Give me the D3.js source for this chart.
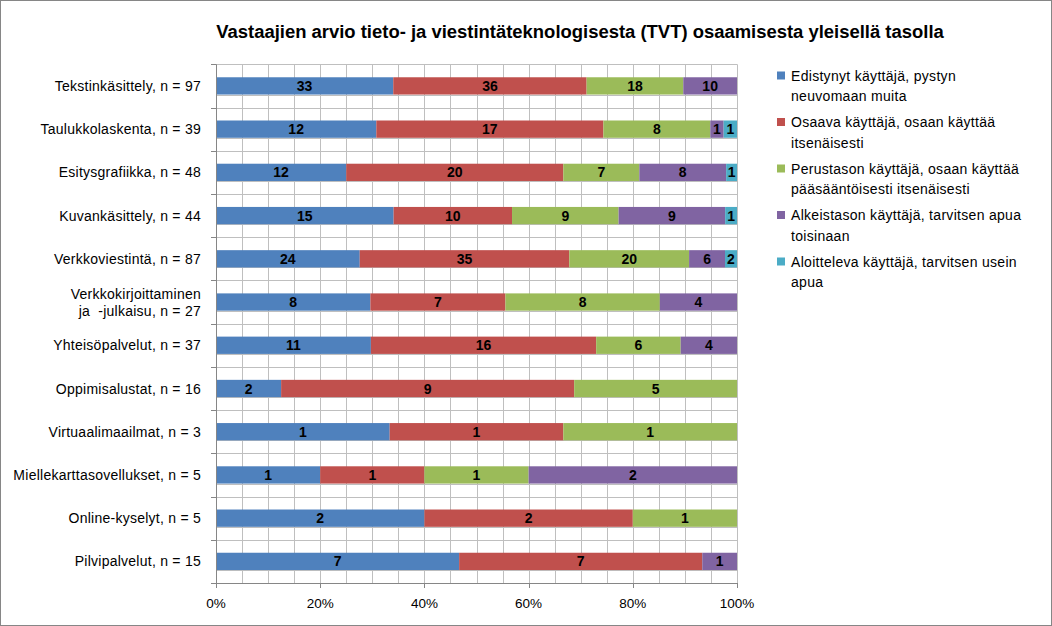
<!DOCTYPE html>
<html><head><meta charset="utf-8">
<script src="https://cdn.jsdelivr.net/npm/d3@7"></script>
<style>
html,body{margin:0;padding:0;background:#fff;}
svg{display:block;}
text{font-family:"Liberation Sans",Arial,sans-serif;}
</style></head>
<body><svg id="chart" width="1052" height="626"></svg>
<script>
const title = "Vastaajien arvio tieto- ja viestintäteknologisesta (TVT) osaamisesta yleisellä tasolla";
const categories = [
  ["Tekstinkäsittely, n = 97"],
  ["Taulukkolaskenta, n = 39"],
  ["Esitysgrafiikka, n = 48"],
  ["Kuvankäsittely, n = 44"],
  ["Verkkoviestintä, n = 87"],
  ["Verkkokirjoittaminen", "ja  -julkaisu, n = 27"],
  ["Yhteisöpalvelut, n = 37"],
  ["Oppimisalustat, n = 16"],
  ["Virtuaalimaailmat, n = 3"],
  ["Miellekarttasovellukset, n = 5"],
  ["Online-kyselyt, n = 5"],
  ["Pilvipalvelut, n = 15"]
];
const seriesNames = [
  ["Edistynyt käyttäjä, pystyn", "neuvomaan muita"],
  ["Osaava käyttäjä, osaan käyttää", "itsenäisesti"],
  ["Perustason käyttäjä, osaan käyttää", "pääsääntöisesti itsenäisesti"],
  ["Alkeistason käyttäjä, tarvitsen apua", "toisinaan"],
  ["Aloitteleva käyttäjä, tarvitsen usein", "apua"]
];
const edistynyt   = [33, 12, 12, 15, 24, 8, 11, 2, 1, 1, 2, 7];
const osaava      = [36, 17, 20, 10, 35, 7, 16, 9, 1, 1, 2, 7];
const perustaso   = [18,  8,  7,  9, 20, 8,  6, 5, 1, 1, 1, 0];
const alkeistaso  = [10,  1,  8,  9,  6, 4,  4, 0, 0, 2, 0, 1];
const aloitteleva = [ 0,  1,  1,  1,  2, 0,  0, 0, 0, 0, 0, 0];
const xTicks = [0, 0.2, 0.4, 0.6, 0.8, 1.0];
const colors = ["#4F81BD", "#C0504D", "#9BBB59", "#8064A2", "#4BACC6"];

const seriesValues = [edistynyt, osaava, perustaso, alkeistaso, aloitteleva];
const rows = categories.map((c, i) => {
  const r = {key: i};
  seriesValues.forEach((s, j) => r["s" + j] = s[i]);
  return r;
});
const keys = seriesValues.map((_, j) => "s" + j);
const stacked = d3.stack().keys(keys).offset(d3.stackOffsetExpand)(rows);

const svg = d3.select("#chart");
const W = 1052, H = 626;
const plot = {left: 216, right: 737, top: 64.3, bottom: 583};

svg.append("rect").attr("x", 0.5).attr("y", 0.5).attr("width", W - 1).attr("height", H - 1)
  .attr("fill", "#fff").attr("stroke", "#868686");

const x = d3.scaleLinear().domain([0, 1]).range([plot.left, plot.right]);
const y = d3.scaleBand().domain(d3.range(categories.length))
  .range([plot.top, plot.bottom]).paddingInner(0.6).paddingOuter(0.3);
const step = y.step();

// gridlines
const grid = svg.append("g").attr("stroke", "#BFBFBF").attr("stroke-width", 1);
grid.selectAll("line.v").data(d3.range(0, 1.0001, 0.05)).join("line")
  .attr("x1", d => Math.round(x(d)) + 0.5).attr("x2", d => Math.round(x(d)) + 0.5)
  .attr("y1", plot.top).attr("y2", plot.bottom);
const hLines = [];
categories.forEach((c, i) => {
  hLines.push(y(i) - step * 0.3);
  hLines.push(y(i) + y.bandwidth());
});
grid.selectAll("line.h").data(hLines).join("line")
  .attr("x1", plot.left).attr("x2", plot.right)
  .attr("y1", d => Math.round(d) + 0.5).attr("y2", d => Math.round(d) + 0.5);

// bars
const g = svg.append("g");
stacked.forEach((layer, j) => {
  g.append("g").attr("fill", colors[j]).selectAll("rect").data(layer).join("rect")
    .attr("x", d => x(d[0])).attr("width", d => x(d[1]) - x(d[0]))
    .attr("y", (d, i) => y(i)).attr("height", y.bandwidth());
  g.append("g").selectAll("text").data(layer.map((d, i) => ({d, i, v: seriesValues[j][i]})).filter(o => o.v > 0))
    .join("text")
    .attr("x", o => (x(o.d[0]) + x(o.d[1])) / 2)
    .attr("y", o => y(o.i) + y.bandwidth() / 2)
    .attr("dy", "0.36em").attr("text-anchor", "middle")
    .attr("font-size", 14).attr("font-weight", "bold").attr("fill", "#000")
    .text(o => o.v);
});

// axes
const axisColor = "#868686";
const yAxis = svg.append("g").attr("stroke", axisColor);
yAxis.append("line").attr("x1", plot.left + 0.5).attr("x2", plot.left + 0.5).attr("y1", plot.top).attr("y2", plot.bottom);
yAxis.selectAll("line.t").data(d3.range(categories.length + 1)).join("line")
  .attr("x1", plot.left - 5).attr("x2", plot.left)
  .attr("y1", k => Math.round(plot.top + k * step) + 0.5).attr("y2", k => Math.round(plot.top + k * step) + 0.5);

const xAxis = svg.append("g").attr("stroke", axisColor);
xAxis.append("line").attr("x1", plot.left - 5).attr("x2", plot.right).attr("y1", Math.round(plot.bottom) + 0.5).attr("y2", Math.round(plot.bottom) + 0.5);
xAxis.selectAll("line.t").data(xTicks).join("line")
  .attr("x1", d => Math.round(x(d)) + 0.5).attr("x2", d => Math.round(x(d)) + 0.5)
  .attr("y1", plot.bottom).attr("y2", plot.bottom + 5);
svg.append("g").selectAll("text").data(xTicks).join("text")
  .attr("x", d => x(d)).attr("y", 608).attr("text-anchor", "middle")
  .attr("font-size", 13.5).attr("fill", "#000")
  .text(d => d3.format(".0%")(d));

// category labels
const catG = svg.append("g");
categories.forEach((lines, i) => {
  const cy = y(i) + y.bandwidth() / 2;
  const t = catG.append("text").attr("text-anchor", "end").attr("font-size", 14).attr("fill", "#000")
    .attr("letter-spacing", "0.25px").attr("xml:space", "preserve");
  lines.forEach((ln, k) => {
    t.append("tspan").attr("x", 201)
      .attr("y", cy + (k - (lines.length - 1) / 2) * 17).attr("dy", "0.36em").text(ln);
  });
});

// legend
const leg = svg.append("g");
const legY = [75.5, 122, 168.5, 215, 261.5];
seriesNames.forEach((lines, j) => {
  leg.append("rect").attr("x", 777).attr("y", legY[j] - 4).attr("width", 8).attr("height", 8).attr("fill", colors[j]);
  const t = leg.append("text").attr("font-size", 14).attr("letter-spacing", "0.3px").attr("fill", "#000");
  lines.forEach((ln, k) => {
    t.append("tspan").attr("x", 791).attr("y", legY[j] + k * 20.5).attr("dy", "0.36em").text(ln);
  });
});

// title
const tt = svg.append("text").attr("x", 580).attr("y", 31).attr("dy", "0.36em")
  .attr("text-anchor", "middle").attr("font-weight", "bold").attr("font-size", 18).attr("fill", "#000")
  .text(title);
const len = tt.node().getComputedTextLength();
if (len > 0) tt.attr("font-size", Math.min(19, 18 * 728 / len));
</script></body></html>
